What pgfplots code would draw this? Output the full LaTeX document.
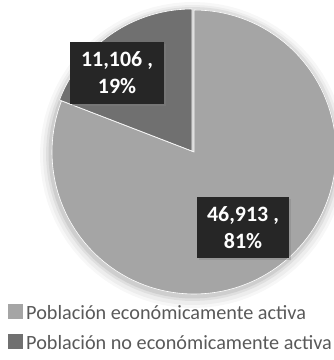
\documentclass[border=0pt]{standalone}
\usepackage{pgfplots}
\pgfplotsset{compat=1.18}
\usepackage{pgfplotstable}
\usetikzlibrary{shadows}
\usepackage{fontspec}
\setmainfont{Carlito}
\definecolor{lightslice}{HTML}{A5A5A5}
\definecolor{darkslice}{HTML}{707070}
\definecolor{labelbox}{HTML}{262626}
\definecolor{legtext}{HTML}{595959}
\pgfplotstableread{
label value
PEA 46913
PNEA 11106
}\piedata
\begin{document}
\begin{tikzpicture}
\pgfplotstablegetelem{0}{value}\of\piedata \edef\rawa{\pgfplotsretval}
\pgfplotstablegetelem{1}{value}\of\piedata \edef\rawb{\pgfplotsretval}
\edef\angb{\fpeval{round(360*\rawb/(\rawa+\rawb),3)}}
\edef\startA{\fpeval{90+\angb}}
\edef\endB{\fpeval{90+\angb}}
\begin{axis}[
  width=334bp, height=360bp, scale only axis,
  xmin=0, xmax=334, ymin=0, ymax=360,
  hide axis, clip=false,
]
% soft shadow
\addplot[fill=black, fill opacity=0.03, draw=none, domain=0:360, samples=90] ({193+153*cos(x)},{205+153*sin(x)}) -- cycle;
\addplot[fill=black, fill opacity=0.04, draw=none, domain=0:360, samples=90] ({193+150*cos(x)},{205+150*sin(x)}) -- cycle;
\addplot[fill=black, fill opacity=0.06, draw=none, domain=0:360, samples=90] ({193+147*cos(x)},{206+147*sin(x)}) -- cycle;
\addplot[fill=black, fill opacity=0.08, draw=none, domain=0:360, samples=90] ({193+144.5*cos(x)},{206+144.5*sin(x)}) -- cycle;
% light slice
\addplot[fill=lightslice, draw=white, line width=0.6pt, domain=\startA:450, samples=120]
  ({194+142*cos(x)},{208+142*sin(x)}) -- (axis cs:194,208) -- cycle;
% dark slice
\addplot[fill=darkslice, draw=white, line width=0.6pt, domain=90:\endB, samples=40]
  ({192+142*cos(x)},{209+142*sin(x)}) -- (axis cs:192,209) -- cycle;
% labels
\node[fill=labelbox, text=white, font=\bfseries\fontsize{22}{27}\selectfont, align=center,
  minimum width=92bp, minimum height=61bp, inner sep=2bp,
  drop shadow={shadow xshift=2bp, shadow yshift=-2bp, opacity=0.4}] at (axis cs:243,132.5)
  {46,913 ,\\81\%};
\node[fill=labelbox, text=white, font=\bfseries\fontsize{22}{27}\selectfont, align=center,
  minimum width=94bp, minimum height=62bp, inner sep=2bp,
  drop shadow={shadow xshift=2bp, shadow yshift=-2bp, opacity=0.4}] at (axis cs:117,287)
  {11,106 ,\\19\%};
% legend
\node[anchor=base west, inner sep=0pt, font=\fontsize{20.3}{24}\selectfont] at (axis cs:8,41)
  {\textcolor{lightslice}{\rule{15bp}{15bp}}\hspace{3bp}\textcolor{legtext}{Población económicamente activa}};
\node[anchor=base west, inner sep=0pt, font=\fontsize{20.3}{24}\selectfont] at (axis cs:8,11)
  {\textcolor{darkslice}{\rule{15bp}{15bp}}\hspace{3bp}\textcolor{legtext}{Población no económicamente activa}};
\end{axis}
\pgfresetboundingbox
\useasboundingbox (0,0) rectangle (334bp,360bp);
\end{tikzpicture}
\end{document}
